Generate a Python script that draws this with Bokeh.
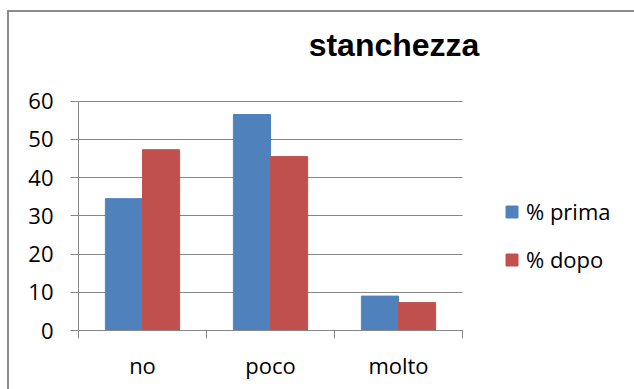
from bokeh.plotting import figure
from bokeh.models import (ColumnDataSource, FixedTicker, Legend, LegendItem, Label,
                          Range1d, InlineStyleSheet)
from bokeh.transform import dodge
from bokeh.embed import file_html
from bokeh.resources import INLINE

# Data
categories = ["no", "poco", "molto"]
prima = [34.5, 56.5, 9.0]
dopo = [47.3, 45.5, 7.3]
series_names = ["% prima", "% dopo"]
y_ticks = [0, 10, 20, 30, 40, 50, 60]
title_text = "stanchezza"

BLUE = "#4F81BD"
RED = "#C0504D"
GRID = "#868686"
LABEL_FONT = "Open Sans"
LABEL_SIZE = "22px"

n_cat = len(categories)
y_max = y_ticks[-1]
centers = [i + 0.5 for i in range(n_cat)]
boundaries = [float(i) for i in range(n_cat + 1)]

# Frame geometry: the frame extends right and up so the title and legend
# sit inside it; axes and grid are limited to the data region with bounds.
W, H = 634, 389
LEFT, TOP, BOTTOM = 78, 10, 59
cat_px = 128.0
unit_px = 229.3 / y_max
frame_w = W - LEFT
frame_h = H - TOP - BOTTOM

source = ColumnDataSource(dict(x=centers, prima=prima, dopo=dopo))

p = figure(width=W, height=H, output_backend="svg", toolbar_location=None,
           x_range=Range1d(0, frame_w / cat_px), y_range=Range1d(0, frame_h / unit_px),
           min_border_left=LEFT, min_border_right=0, min_border_top=TOP,
           min_border_bottom=BOTTOM)
p.outline_line_color = None
p.background_fill_color = "white"
p.border_fill_color = "white"

bar_w = 0.29
r1 = p.vbar(x=dodge("x", -bar_w / 2), top="prima", width=bar_w, source=source,
            fill_color=BLUE, line_color=BLUE)
r2 = p.vbar(x=dodge("x", bar_w / 2), top="dopo", width=bar_w, source=source,
            fill_color=RED, line_color=RED)

# Grid
p.xgrid.visible = False
p.ygrid.grid_line_color = GRID
p.ygrid.grid_line_width = 1
p.ygrid.ticker = FixedTicker(ticks=y_ticks)
p.ygrid.bounds = (0, y_max)
p.ygrid.cross_bounds = (0, n_cat)

# Y axis
ya = p.yaxis[0]
ya.bounds = (0, y_max)
ya.ticker = FixedTicker(ticks=y_ticks, minor_ticks=[])
ya.axis_line_color = GRID
ya.major_tick_line_color = GRID
ya.major_tick_out = 8
ya.major_tick_in = 0
ya.minor_tick_line_color = None
ya.major_label_standoff = 17
ya.major_label_text_font = LABEL_FONT
ya.major_label_text_font_size = LABEL_SIZE
ya.major_label_text_color = "black"

# X axis: labels at category centers, tick marks at category boundaries
xa = p.xaxis[0]
xa.bounds = (0, n_cat)
xa.ticker = FixedTicker(ticks=centers, minor_ticks=boundaries)
xa.major_label_overrides = {c: name for c, name in zip(centers, categories)}
xa.axis_line_color = GRID
xa.major_tick_out = 0
xa.major_tick_in = 0
xa.major_tick_line_color = None
xa.minor_tick_out = 8
xa.minor_tick_in = 0
xa.minor_tick_line_color = GRID
xa.major_label_standoff = 11
xa.major_label_text_font = LABEL_FONT
xa.major_label_text_font_size = LABEL_SIZE
xa.major_label_text_color = "black"

# Legend to the right of the bars
legend = Legend(items=[LegendItem(label=series_names[0], renderers=[r1]),
                       LegendItem(label=series_names[1], renderers=[r2])],
                location=(426, 56), orientation="vertical",
                glyph_width=15, glyph_height=15, label_standoff=7,
                label_height=30, spacing=18, padding=0, margin=0,
                border_line_alpha=0, background_fill_alpha=0,
                label_text_font=LABEL_FONT, label_text_font_size=LABEL_SIZE,
                label_text_color="black")
p.add_layout(legend)

# Title
p.add_layout(Label(x=315.5, y=286, x_units="screen", y_units="screen",
                   text=title_text, text_align="center", text_baseline="alphabetic",
                   text_font="Liberation Sans", text_font_style="bold",
                   text_font_size="32px", text_color="black"))

# Chart area border along the top and left edges
p.stylesheets = [InlineStyleSheet(css="""
:host { position: relative; }
:host::after {
  content: "";
  position: absolute;
  left: 7px; top: 9.7px;
  width: calc(100% - 7px); height: calc(100% - 9.7px);
  box-sizing: border-box;
  border-left: 2px solid #8c8c8c;
  border-top: 2px solid #8c8c8c;
  pointer-events: none;
}
""")]

open("out.html", "w").write(file_html(p, INLINE))
